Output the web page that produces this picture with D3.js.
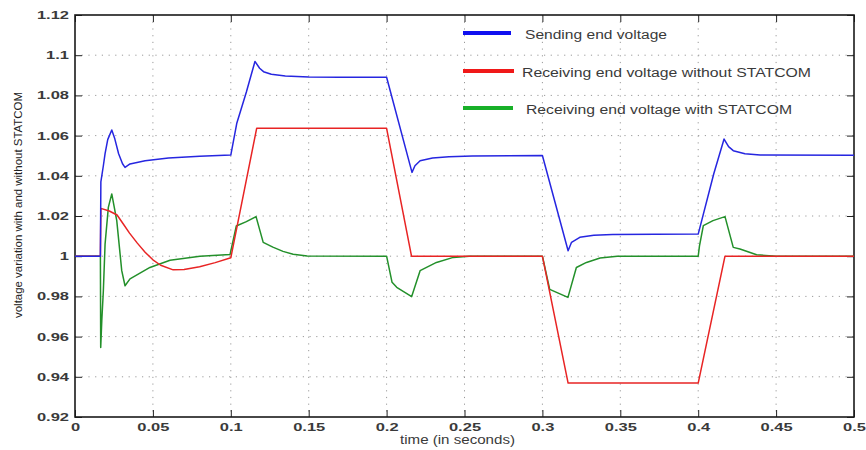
<!DOCTYPE html>
<html><head><meta charset="utf-8">
<script src="https://cdn.jsdelivr.net/npm/d3@7"></script>
<style>body{margin:0;background:#fff}svg{display:block}</style>
</head><body>
<svg id="chart" width="866" height="450"></svg>
<script>
// ---- data ----
const xTicks = [0, 0.05, 0.1, 0.15, 0.2, 0.25, 0.3, 0.35, 0.4, 0.45, 0.5];
const xTickLabels = ["0", "0.05", "0.1", "0.15", "0.2", "0.25", "0.3", "0.35", "0.4", "0.45", "0.5"];
const yTicks = [0.92, 0.94, 0.96, 0.98, 1.0, 1.02, 1.04, 1.06, 1.08, 1.1, 1.12];
const yTickLabels = ["0.92", "0.94", "0.96", "0.98", "1", "1.02", "1.04", "1.06", "1.08", "1.1", "1.12"];
const seriesNames = ["Sending end voltage", "Receiving end voltage without STATCOM", "Receiving end voltage with STATCOM"];
const xTitle = "time (in seconds)";
const yTitle = "voltage variation with and without STATCOM";

const sendT = [0, 0.0163, 0.0166, 0.0182, 0.0193, 0.021, 0.0236, 0.0255, 0.028, 0.0305, 0.0321, 0.0353, 0.045, 0.06, 0.08, 0.1,
  0.1038, 0.11, 0.1155, 0.1185, 0.121, 0.126, 0.135, 0.15, 0.17, 0.2,
  0.2163, 0.2182, 0.2215, 0.2295, 0.24, 0.255, 0.3,
  0.3165, 0.3187, 0.324, 0.333, 0.345, 0.4,
  0.41, 0.4166, 0.4195, 0.4225, 0.43, 0.4397, 0.5];
const sendV = [1, 1, 1.037, 1.045, 1.051, 1.058, 1.0628, 1.0585, 1.051, 1.046, 1.0442, 1.0459, 1.0475, 1.0488, 1.0497, 1.0503,
  1.066, 1.0817, 1.0969, 1.0935, 1.0918, 1.0905, 1.0897, 1.0892, 1.089, 1.089,
  1.0417, 1.045, 1.0475, 1.0489, 1.0495, 1.0499, 1.0501,
  1.0027, 1.0069, 1.0094, 1.0104, 1.0108, 1.011,
  1.041, 1.0583, 1.0545, 1.0525, 1.051, 1.0503, 1.0502];

const recvNoT = [0, 0.0163, 0.0166, 0.022, 0.027, 0.031, 0.035, 0.04, 0.045, 0.05, 0.055, 0.063, 0.07, 0.08, 0.09, 0.1,
  0.1166, 0.2, 0.216, 0.3, 0.3165, 0.4, 0.4172, 0.5];
const recvNoV = [1, 1, 1.0238, 1.0225, 1.0205, 1.016, 1.0115, 1.0065, 1.002, 0.9982, 0.9955, 0.9932, 0.9934, 0.9948, 0.9968, 0.9992,
  1.0636, 1.0636, 1.0, 1.0, 0.9369, 0.9369, 1.0, 1.0];

const recvWithT = [0, 0.0163, 0.0165, 0.0172, 0.0182, 0.0193, 0.0214, 0.0236, 0.0268, 0.03, 0.0321, 0.0353, 0.0481, 0.061, 0.0802, 0.0995,
  0.1035, 0.11, 0.1162, 0.1208, 0.127, 0.1335, 0.14, 0.149, 0.2,
  0.2035, 0.2065, 0.2161, 0.2215, 0.232, 0.2428, 0.253, 0.3,
  0.3047, 0.3164, 0.3218, 0.3283, 0.337, 0.348, 0.4,
  0.4008, 0.4033, 0.4095, 0.4172, 0.4225, 0.4268, 0.4375, 0.45, 0.5];
const recvWithV = [1, 1, 0.9546, 0.968, 0.9828, 1.006, 1.0243, 1.031, 1.0177, 0.9928, 0.9853, 0.9887, 0.9944, 0.998, 1.0, 1.0008,
  1.015, 1.0172, 1.0197, 1.0069, 1.0045, 1.0024, 1.001, 1.0001, 1.0,
  0.987, 0.9845, 0.9799, 0.9928, 0.9969, 0.9994, 1.0, 1.0,
  0.9835, 0.9795, 0.9944, 0.9969, 0.9991, 1.0, 1.0,
  1.005, 1.0152, 1.0177, 1.0197, 1.0044, 1.0036, 1.0007, 1.0, 1.0];

const lineColors = ["#2626e0", "#e82424", "#23902a"];
const legendColors = ["#1010f0", "#f01818", "#18b028"];

// ---- chart ----
const svg = d3.select("#chart");
const x = d3.scaleLinear().domain([0, 0.5]).range([75, 854]);
const y = d3.scaleLinear().domain([0.92, 1.12]).range([417, 15]);
const FONT = "'Liberation Sans', Arial, sans-serif";
const txtCol = "#3a3a3a";

// grid
const grid = svg.append("g");
grid.selectAll("line.v").data(xTicks.slice(1, -1)).join("line")
  .attr("x1", d => x(d)).attr("x2", d => x(d)).attr("y1", y(1.12)).attr("y2", y(0.92))
  .attr("stroke", "#9a9a9a").attr("stroke-width", 1).attr("stroke-dasharray", "1.2,5.5");
grid.selectAll("line.h").data(yTicks.slice(1, -1)).join("line")
  .attr("y1", d => y(d)).attr("y2", d => y(d)).attr("x1", x(0)).attr("x2", x(0.5))
  .attr("stroke", "#9a9a9a").attr("stroke-width", 1).attr("stroke-dasharray", "1.2,5.5");

// axes (inward ticks like MATLAB)
const sx = 1.5;
const gL = svg.append("g").attr("transform", `translate(${x(0)},0)`)
  .call(d3.axisLeft(y).tickValues(yTicks).tickSize(-7).tickPadding(0).tickFormat((d, i) => yTickLabels[i]));
gL.selectAll("text").attr("x", -6 / sx).attr("transform", `scale(${sx},1)`);
const gB = svg.append("g").attr("transform", `translate(0,${y(0.92)})`)
  .call(d3.axisBottom(x).tickValues(xTicks).tickSize(-7).tickPadding(6).tickFormat((d, i) => xTickLabels[i]));
gB.selectAll("text").attr("transform", `scale(${sx},1)`);
svg.append("g").attr("transform", `translate(${x(0.5)},0)`)
  .call(d3.axisRight(y).tickValues(yTicks).tickSize(-7).tickFormat(""));
svg.append("g").attr("transform", `translate(0,${y(1.12)})`)
  .call(d3.axisTop(x).tickValues(xTicks).tickSize(-7).tickFormat(""));
svg.selectAll(".domain").remove();
svg.selectAll(".tick line").attr("stroke", "#222").attr("stroke-width", 1);
svg.selectAll(".tick text").attr("font-family", FONT).attr("font-size", 11).attr("font-weight", "bold").attr("fill", txtCol);

// frame
svg.append("rect").attr("x", x(0)).attr("y", y(1.12)).attr("width", x(0.5) - x(0)).attr("height", y(0.92) - y(1.12))
  .attr("fill", "none").attr("stroke", "#1a1a1a").attr("stroke-width", 1.6);

// series
const series = [
  {t: recvWithT, v: recvWithV, c: lineColors[2]},
  {t: recvNoT, v: recvNoV, c: lineColors[1]},
  {t: sendT, v: sendV, c: lineColors[0]}
];
const line = d3.line().x(d => x(d[0])).y(d => y(d[1]));
series.forEach(s => {
  svg.append("path").datum(s.t.map((t, i) => [t, s.v[i]]))
    .attr("d", line).attr("fill", "none").attr("stroke", s.c).attr("stroke-width", 1.5)
    .attr("stroke-linejoin", "round");
});

// legend
const legY = [33, 71, 108];
const legTx = [525, 522, 526];
const legW = [142, 289, 266];
const legLineEnd = [511, 514, 513];
seriesNames.forEach((n, i) => {
  svg.append("line").attr("x1", 463).attr("x2", legLineEnd[i]).attr("y1", legY[i]).attr("y2", legY[i])
    .attr("stroke", legendColors[i]).attr("stroke-width", 4);
  svg.append("text").attr("x", legTx[i]).attr("y", legY[i] + 6).text(n)
    .attr("font-family", FONT).attr("font-size", 12).attr("fill", txtCol)
    .attr("textLength", legW[i]).attr("lengthAdjust", "spacingAndGlyphs");
});

// axis titles
svg.append("text").attr("x", 400).attr("y", 444).text(xTitle)
  .attr("font-family", FONT).attr("font-size", 12).attr("fill", txtCol)
  .attr("textLength", 115).attr("lengthAdjust", "spacingAndGlyphs");
svg.append("text").attr("transform", "translate(22,318) rotate(-90)").text(yTitle)
  .attr("font-family", FONT).attr("font-size", 11.5).attr("fill", "#222")
  .attr("textLength", 226).attr("lengthAdjust", "spacingAndGlyphs");
</script>
</body></html>
